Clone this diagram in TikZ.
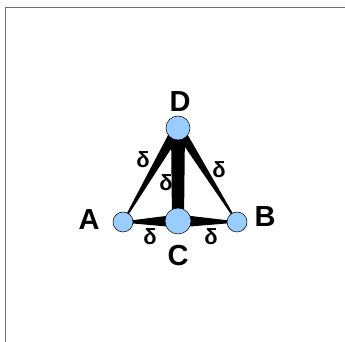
\documentclass[tikz,border=0pt]{standalone}
\usepackage{fontspec}
\setmainfont{Liberation Sans}
\usepackage{tikz}
\usetikzlibrary{calc, backgrounds}
\definecolor{nodeblue}{RGB}{153, 204, 255}
\definecolor{framegray}{RGB}{110, 110, 110}

% filled taper between two nodes: half-width #3 at #1, #4 at #2
\newcommand{\taper}[4]{%
  \fill ($(#1.center)!#3!90:(#2.center)$) -- ($(#1.center)!#3!-90:(#2.center)$)
     -- ($(#2.center)!#4!90:(#1.center)$) -- ($(#2.center)!#4!-90:(#1.center)$) -- cycle;}

\tikzset{
  vert/.style={circle, draw=black, line width=0.5pt, fill=nodeblue, inner sep=0pt},
  vlabel/.style={font=\fontsize{29}{29}\selectfont\bfseries},
  weight/.style={font=\fontsize{22}{22}\selectfont\bfseries}
}

\begin{document}
\begin{tikzpicture}[x=1pt, y=1pt]
    \useasboundingbox (0,0) rectangle (345,342);

    % Cadre
    \draw[framegray, line width=1pt] (5,0) -- (5,334) -- (345,334);

    % Sommets
    \node[vert, minimum size=24pt] (D) at (178,214) {};
    \node[vert, minimum size=20pt] (A) at (123,120) {};
    \node[vert, minimum size=26pt] (C) at (178,121) {};
    \node[vert, minimum size=20pt] (B) at (237,120) {};

    % Aretes (en arriere-plan)
    \begin{scope}[on background layer]
        \taper{D}{A}{5.5pt}{0.6pt}
        \taper{D}{B}{5pt}{0.6pt}
        \taper{D}{C}{7pt}{6pt}
        \taper{C}{A}{6.5pt}{0.6pt}
        \taper{C}{B}{6.5pt}{0.6pt}
    \end{scope}

    % Etiquettes des sommets
    \node[vlabel] (lD) at (180,240) {D};
    \node[vlabel] (lA) at (89,122) {A};
    \node[vlabel] (lB) at (265,125) {B};
    \node[vlabel] (lC) at (178,86) {C};

    % Poids
    \node[weight] (w1) at (143,182) {δ};
    \node[weight] (w2) at (219,172) {δ};
    \node[weight] (w3) at (166,159) {δ};
    \node[weight] (w4) at (150,105) {δ};
    \node[weight] (w5) at (211,105) {δ};

\end{tikzpicture}
\end{document}
